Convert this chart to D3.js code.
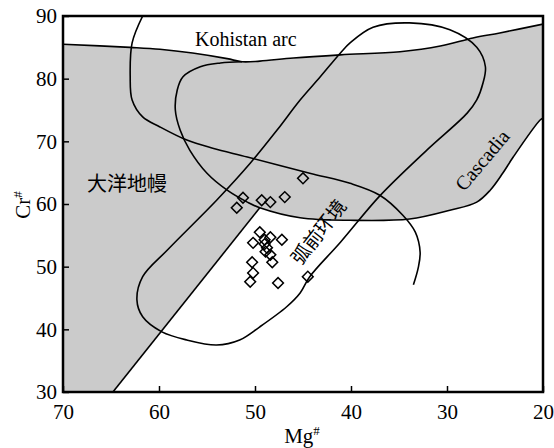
<!DOCTYPE html>
<html>
<head>
<meta charset="utf-8">
<script src="https://cdn.jsdelivr.net/npm/d3@7"></script>
<style>
  body { margin: 0; background: #fff; }
  svg text { font-family: "Liberation Serif", "Times New Roman", serif; }
  .cjk { font-family: "Noto Sans CJK SC", sans-serif; }
</style>
</head>
<body>
<div id="chart"></div>
<script>
// Cr# - Mg# 图解
const xTicks = [70, 60, 50, 40, 30, 20];
const yTicks = [30, 40, 50, 60, 70, 80, 90];

// 样品点 (Mg#, Cr#)
const sampleMg = [45.0, 51.25, 51.9, 49.3, 48.4, 46.9, 49.5, 50.2, 49.0, 48.4, 47.2, 48.75, 48.4, 48.2, 50.3, 50.2, 50.5, 47.6, 44.5, 49.0, 48.9];
const sampleCr = [64.1, 61.0, 59.4, 60.6, 60.3, 61.1, 55.5, 53.8, 54.3, 54.7, 54.3, 53.0, 51.9, 50.7, 50.7, 49.0, 47.6, 47.4, 48.4, 53.6, 52.4];

// 大洋地幔上边界
const topLine = [[70, 85.5], [63.0, 85.0], [59.9, 84.7], [56.5, 84.1], [52.9, 83.2], [51.35, 82.7], [49.5, 82.8], [46.0, 83.3], [41.1, 83.8], [34.9, 84.3], [30.7, 85.2], [27.3, 86.5], [24.5, 87.3], [20, 88.7]];

// Kohistan arc 边界
const kohistan = [[61.7, 90], [62.8, 85.7], [63.0, 80.3], [62.8, 76.6], [61.7, 73.9], [59.9, 72.3], [57.1, 70.2], [54.4, 68.9], [50.8, 67.5], [44.3, 64.9], [40.1, 63.3], [37.0, 61.4], [34.6, 58.2], [33.3, 55.5], [32.8, 52.3], [33.0, 49.8], [33.5, 47.1]];

// 大洋地幔下边界 (含 Cascadia)
const loopHead = [[51.35, 82.7], [53.6, 82.5], [55.7, 81.9], [57.5, 80.3], [58.1, 78.2], [58.3, 75.0], [57.8, 71.8], [56.8, 68.6], [55.0, 64.9], [52.9, 62.2], [50.8, 60.3]];
const loopTail = [[49.5, 59.4], [45.3, 57.8], [40.1, 57.4], [33.9, 57.6], [29.7, 59.0], [26.9, 60.3], [25.5, 62.2], [24.2, 64.9], [23.1, 67.5], [20.3, 73.4], [20, 73.7]];

// 左下直线
const lowerLine = [[64.8, 30], [49.5, 59.4]];

// 弧前环境范围
const forearc = [[59.1, 52.7], [54.0, 60.6], [50.5, 66.5], [47.7, 71.8], [45.3, 76.6], [43.2, 80.3], [41.1, 84.1], [40.1, 85.7], [37.7, 88.2], [33.9, 88.9], [29.7, 87.8], [26.9, 85.0], [26.0, 81.9], [26.25, 79.3], [26.9, 76.6], [27.9, 74.5], [32.1, 68.6], [37.0, 61.3], [41.1, 53.9], [44.3, 48.4], [45.3, 45.8], [46.7, 43.6], [49.5, 40.4], [51.6, 38.3], [54.0, 37.5], [57.1, 38.3], [59.7, 39.6], [61.7, 42.0], [62.3, 44.7], [61.7, 48.4]];

const margin = {top: 16, right: 11, bottom: 56, left: 63},
      width = 554 - margin.left - margin.right,
      height = 448 - margin.top - margin.bottom;

const root = d3.select("#chart")
  .append("svg")
  .attr("width", 554)
  .attr("height", 448);

const defs = root.append("defs");
defs.append("clipPath").attr("id", "clip")
  .append("rect").attr("width", width).attr("height", height);

const svg = root.append("g")
  .attr("transform", `translate(${margin.left},${margin.top})`);

const x = d3.scaleLinear().domain([70, 20]).range([0, width]);
const y = d3.scaleLinear().domain([30, 90]).range([height, 0]);

const smooth = d3.line().x(d => x(d[0])).y(d => y(d[1])).curve(d3.curveCatmullRom);
const straight = d3.line().x(d => x(d[0])).y(d => y(d[1]));
const closed = d3.line().x(d => x(d[0])).y(d => y(d[1])).curve(d3.curveCatmullRomClosed);

const plot = svg.append("g").attr("clip-path", "url(#clip)");

// shaded oceanic mantle area
const shadePath = smooth(topLine)
  + "L" + x(20) + "," + y(73.7)
  + smooth(loopTail.slice().reverse()).replace(/^M/, "L")
  + "L" + x(lowerLine[0][0]) + "," + y(lowerLine[0][1])
  + "L" + x(70) + "," + y(30) + "Z";

plot.append("path")
  .attr("d", shadePath)
  .attr("fill", "#cbcbcb")
  .attr("stroke", "none");

const lineStyle = sel => sel.attr("fill", "none").attr("stroke", "#000").attr("stroke-width", 1.6);

plot.append("path").attr("d", smooth(topLine)).call(lineStyle);
plot.append("path").attr("d", smooth(kohistan)).call(lineStyle);
plot.append("path").attr("d", smooth(loopHead.concat(loopTail))).call(lineStyle);
plot.append("path").attr("d", straight(lowerLine)).call(lineStyle);
plot.append("path").attr("d", closed(forearc)).call(lineStyle);

// samples
const samples = sampleMg.map((m, i) => ({mg: m, cr: sampleCr[i]}));
plot.append("g")
  .selectAll("path")
  .data(samples)
  .enter()
  .append("path")
  .attr("d", d3.symbol(d3.symbolSquare, 58))
  .attr("transform", d => `translate(${x(d.mg)},${y(d.cr)}) rotate(45)`)
  .attr("fill", "none")
  .attr("stroke", "#000")
  .attr("stroke-width", 1.5);

// axes (ticks inward)
svg.append("g")
  .attr("transform", `translate(0,${height})`)
  .call(d3.axisBottom(x).tickValues(xTicks).tickSizeInner(-6).tickSizeOuter(0).tickPadding(12))
  .call(g => g.select(".domain").remove())
  .call(g => g.selectAll("line").attr("stroke-width", 1.5))
  .call(g => g.selectAll("text").attr("font-size", 21).attr("font-family", "Liberation Serif, serif").attr("fill", "#000"));

svg.append("g")
  .call(d3.axisLeft(y).tickValues(yTicks).tickSizeInner(-6).tickSizeOuter(0).tickPadding(6))
  .call(g => g.select(".domain").remove())
  .call(g => g.selectAll("line").attr("stroke-width", 1.5))
  .call(g => g.selectAll("text").attr("font-size", 21).attr("font-family", "Liberation Serif, serif").attr("fill", "#000"));

// frame
svg.append("rect")
  .attr("width", width)
  .attr("height", height)
  .attr("fill", "none")
  .attr("stroke", "#000")
  .attr("stroke-width", 2.5);

// labels
svg.append("text")
  .attr("x", 195 - margin.left)
  .attr("y", 46 - margin.top)
  .attr("font-size", 20)
  .text("Kohistan arc");

svg.append("text")
  .attr("class", "cjk")
  .attr("x", 87 - margin.left)
  .attr("y", 191 - margin.top)
  .attr("font-size", 20)
  .text("大洋地幔");

svg.append("text")
  .attr("class", "cjk")
  .attr("text-anchor", "middle")
  .attr("dominant-baseline", "central")
  .attr("transform", `translate(${x(43.5)},${y(55.7)}) rotate(-52)`)
  .attr("font-size", 19)
  .text("弧前环境");

svg.append("text")
  .attr("text-anchor", "middle")
  .attr("dominant-baseline", "central")
  .attr("transform", `translate(${x(26.35)},${y(67.0)}) rotate(-50)`)
  .attr("font-size", 20)
  .text("Cascadia");

const mg = svg.append("text")
  .attr("text-anchor", "middle")
  .attr("x", 302 - margin.left)
  .attr("y", 443 - margin.top)
  .attr("font-size", 21)
  .text("Mg");
mg.append("tspan").attr("font-size", 13).attr("dy", -8).text("#");

const cr = svg.append("text")
  .attr("text-anchor", "middle")
  .attr("transform", `translate(${30 - margin.left},${205 - margin.top}) rotate(-90)`)
  .attr("font-size", 21)
  .text("Cr");
cr.append("tspan").attr("font-size", 13).attr("dy", -8).text("#");
</script>
</body>
</html>
